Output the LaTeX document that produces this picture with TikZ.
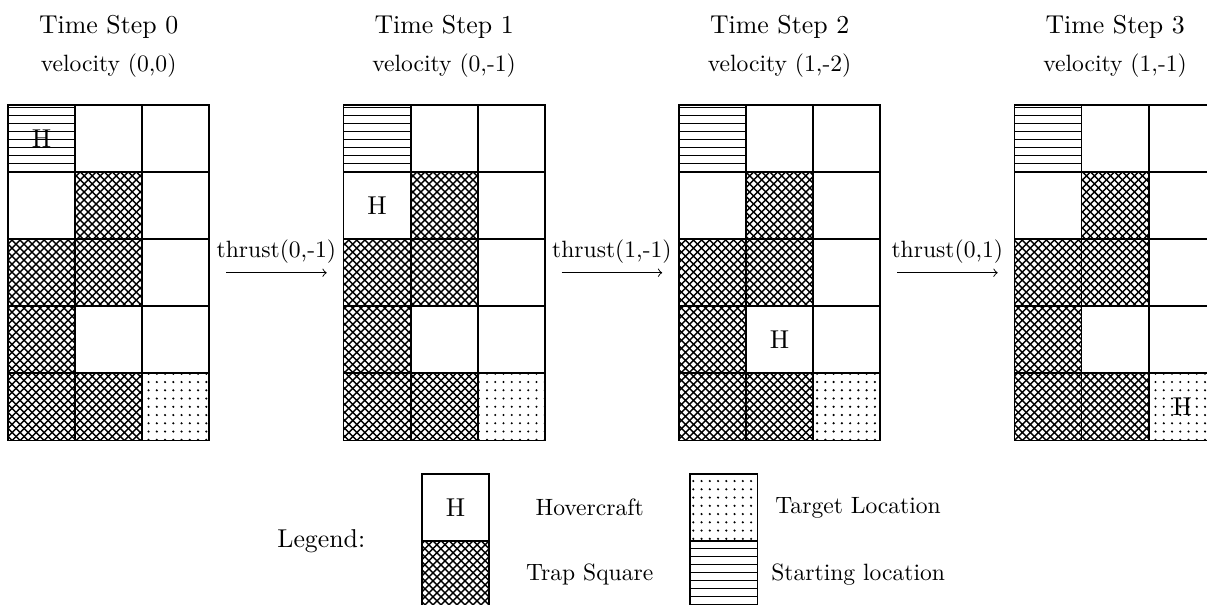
\documentclass[11pt,tikz,border=0pt]{standalone}
\usepackage{tikz}
\usetikzlibrary{positioning,patterns,arrows}

% Slightly coarser versions of the standard patterns
\pgfdeclarepatternformonly{bigcrosshatch}{\pgfqpoint{-1pt}{-1pt}}{\pgfqpoint{4.4pt}{4.4pt}}{\pgfqpoint{3.4pt}{3.4pt}}
{
  \pgfsetlinewidth{0.6pt}
  \pgfpathmoveto{\pgfqpoint{0pt}{0pt}}
  \pgfpathlineto{\pgfqpoint{3.41pt}{3.41pt}}
  \pgfpathmoveto{\pgfqpoint{0pt}{3.4pt}}
  \pgfpathlineto{\pgfqpoint{3.41pt}{-0.01pt}}
  \pgfusepath{stroke}
}
\pgfdeclarepatternformonly{bigdots}{\pgfqpoint{-1pt}{-1pt}}{\pgfqpoint{1pt}{1pt}}{\pgfqpoint{3.5pt}{3.5pt}}
{
  \pgfpathcircle{\pgfqpoint{0pt}{0pt}}{.5pt}
  \pgfusepath{fill}
}
\pgfdeclarepatternformonly{bighlines}{\pgfqpoint{-1pt}{-0.5pt}}{\pgfqpoint{4.4pt}{0.5pt}}{\pgfqpoint{3.4pt}{3.4pt}}
{
  \pgfsetlinewidth{0.4pt}
  \pgfpathmoveto{\pgfqpoint{-1pt}{0pt}}
  \pgfpathlineto{\pgfqpoint{4.4pt}{0pt}}
  \pgfusepath{stroke}
}

\tikzset{
  cell/.style={draw, thick, minimum size=1cm, inner sep=0pt, outer sep=0pt},
  opensq/.style={},
  trapsq/.style={pattern=bigcrosshatch},
  targetsq/.style={pattern=bigdots},
  startsq/.style={pattern=bighlines},
  smalltext/.style={font=\small}
}

\begin{document}
\begin{tikzpicture}
    \useasboundingbox (-0.119,-2.45) rectangle (17.87,6.565);

    % The four grids, one per time step (hovercraft row/column given)
    \foreach \g/\hr/\hc/\vel in {0/1/1/{(0,0)}, 1/2/1/{(0,-1)}, 2/4/2/{(1,-2)}, 3/5/3/{(1,-1)}} {
        \foreach \r/\c/\kind in {1/1/startsq, 1/2/opensq, 1/3/opensq,
                                 2/1/opensq, 2/2/trapsq, 2/3/opensq,
                                 3/1/trapsq, 3/2/trapsq, 3/3/opensq,
                                 4/1/trapsq, 4/2/opensq, 4/3/opensq,
                                 5/1/trapsq, 5/2/trapsq, 5/3/targetsq} {
            \node (g\g-\r-\c) [cell, \kind] at ({5*\g+\c-0.5}, {5.5-\r}) {};
        }
        \node (h\g) at (g\g-\hr-\hc.center) {H};

        % Step title and velocity
        \node (ts\g) [anchor=base] at ({5*\g+1.5}, 6.07) {Time Step \g};
        \node (vel\g) [anchor=base, smalltext] at ({5*\g+1.5}, 5.50) {velocity \vel};
    }

    % Thrust arrows between the grids
    \foreach \g/\n/\thr in {0/1/{(0,-1)}, 1/2/{(1,-1)}, 2/3/{(0,1)}} {
        \draw[->, shorten <=0.25cm, shorten >=0.25cm] (g\g-3-3.east) -- node (thr\g) [above, smalltext] {thrust\thr} (g\n-3-1.west);
    }

    % Legend
    \node (legend) at (4.67,-1.5) {Legend:};
    \node (lhov) [cell] at (6.67,-1.0) {H};
    \node (ltrap) [cell, trapsq, below=0cm of lhov] {};
    \node (lhovtxt) [smalltext] at (8.67,-1.0) {Hovercraft};
    \node (ltraptxt) [smalltext] at (8.67,-2.0) {Trap Square};
    \node (ltarget) [cell, targetsq] at (10.67,-1.0) {};
    \node (lstart) [cell, startsq, below=0cm of ltarget] {};
    \node (ltargettxt) [smalltext] at (12.67,-1.0) {Target Location};
    \node (lstarttxt) [smalltext] at (12.67,-2.0) {Starting location};
\end{tikzpicture}
\end{document}
